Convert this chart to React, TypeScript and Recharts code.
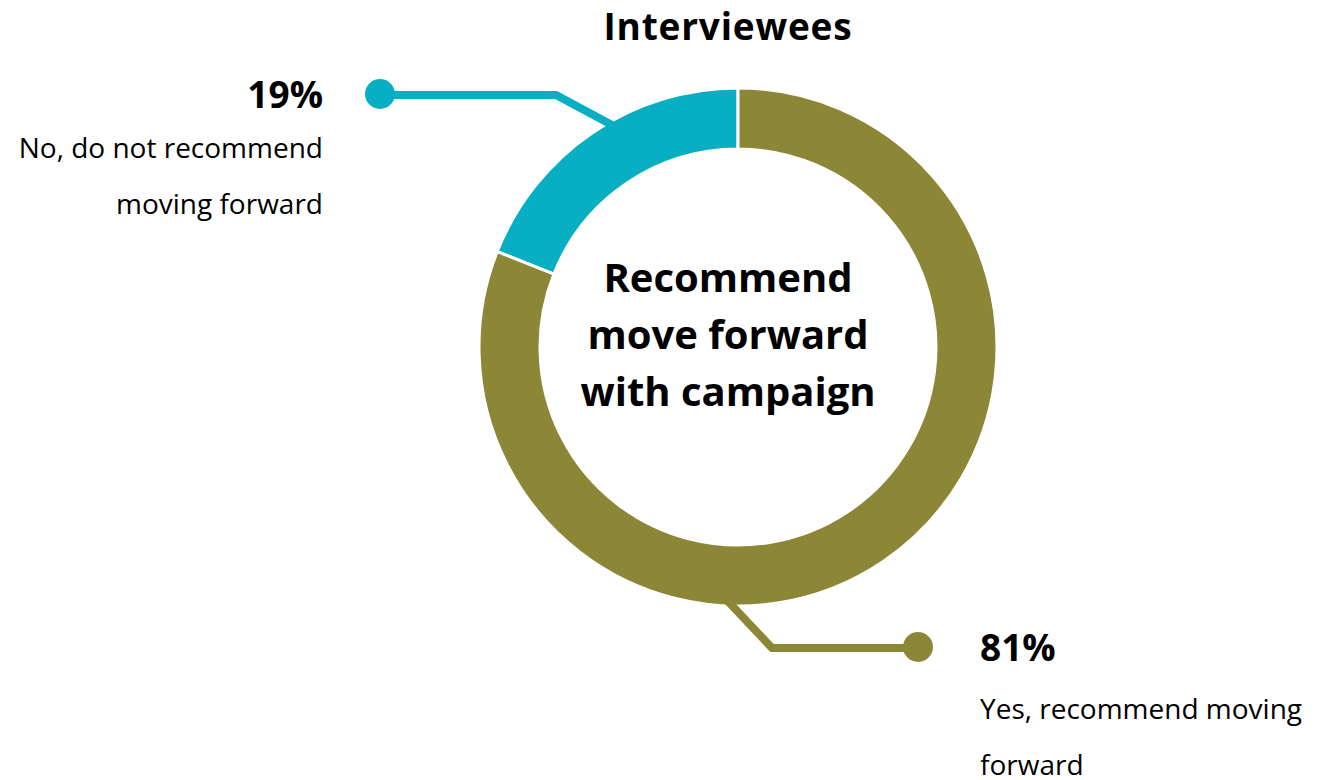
import React from 'react';
import { PieChart, Pie, Cell } from 'recharts';

const categories = ['No, do not recommend moving forward', 'Yes, recommend moving forward'];
const values = [19, 81];
const colors = ['#08AEC2', '#8C8637'];
const descLines = [
  ['No, do not recommend', 'moving forward'],
  ['Yes, recommend moving', 'forward'],
];
const title = 'Interviewees';
const centerLines = ['Recommend', 'move forward', 'with campaign'];

const data = categories.map((name, i) => ({ name, value: values[i] }));

const FONT = '"Open Sans", Lato, sans-serif';

// leader-line geometry relative to the pie centre / outer radius
const leaders = [
  { angle: 119, rIn: 0.97, elbow: [-182, -252], dot: [-358, -252], side: 'left', descOff: 63 },
  { angle: 267, rIn: 0.97, elbow: [34, 301], dot: [180, 301], side: 'right', descOff: 71 },
];

const renderLabel = (props: any) => {
  const { cx, cy, outerRadius, index, percent } = props;
  const l = leaders[index];
  const rad = (l.angle * Math.PI) / 180;
  const sx = cx + outerRadius * l.rIn * Math.cos(rad);
  const sy = cy - outerRadius * l.rIn * Math.sin(rad);
  const ex = cx + l.elbow[0];
  const ey = cy + l.elbow[1];
  const dx = cx + l.dot[0];
  const dy = cy + l.dot[1];
  const color = colors[index];
  const left = l.side === 'left';
  const tx = left ? dx - 57 : dx + 62;
  const anchor = left ? 'end' : 'start';
  return (
    <g key={`lbl-${index}`}>
      <polyline points={`${sx},${sy} ${ex},${ey} ${dx},${dy}`} fill="none" stroke={color} strokeWidth={8} />
      <circle cx={dx} cy={dy - 1} r={15} fill={color} />
      <text x={tx} y={dy + 13} textAnchor={anchor} fontFamily={FONT} fontWeight={700} fontSize={37} fill="#000">
        {`${Math.round(percent * 100)}%`}
      </text>
      {descLines[index].map((t, j) => (
        <text key={j} x={tx} y={dy + l.descOff + j * 56} textAnchor={anchor} fontFamily={FONT} fontSize={28} fill="#000">
          {t}
        </text>
      ))}
      {index === 0 &&
        centerLines.map((t, i) => (
          <text key={`c${i}`} x={cx - 10} y={cy - 55 + i * 57} textAnchor="middle" fontFamily={FONT} fontWeight={700} fontSize={40} fill="#000">
            {t}
          </text>
        ))}
    </g>
  );
};

export default function App() {
  return (
    <div style={{ position: 'absolute', left: 0, top: 0, width: 1328, height: 780, background: '#fff' }}>
      <PieChart width={1328} height={780} margin={{ top: 0, right: 0, bottom: 0, left: 0 }}>
        <text x={728} y={40} textAnchor="middle" fontFamily={FONT} fontWeight={700} fontSize={37} letterSpacing={0.8} fill="#000">
          {title}
        </text>
        <Pie
          data={data}
          dataKey="value"
          cx={738}
          cy={347}
          innerRadius={198}
          outerRadius={259}
          startAngle={90}
          endAngle={450}
          stroke="#fff"
          strokeWidth={3}
          isAnimationActive={false}
          label={renderLabel}
          labelLine={false}
        >
          {data.map((d, i) => (
            <Cell key={d.name} fill={colors[i]} />
          ))}
        </Pie>
      </PieChart>
    </div>
  );
}
